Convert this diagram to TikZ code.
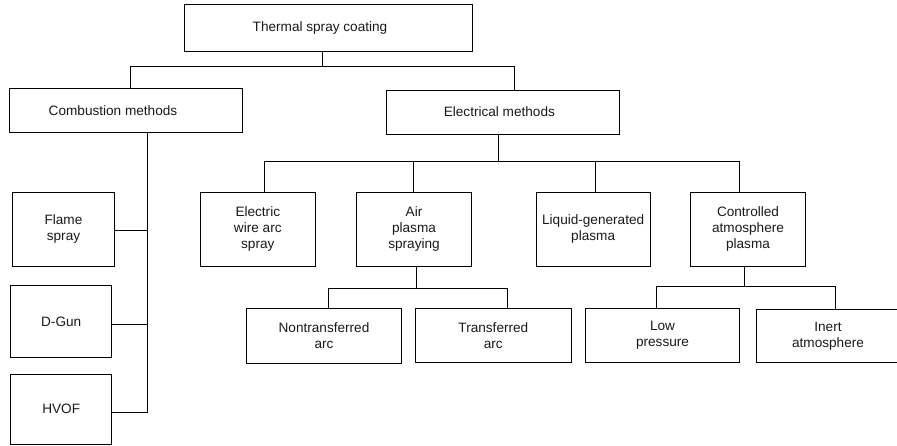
\documentclass[tikz,border=0pt]{standalone}
\usepackage{fontspec}
\setmainfont{Liberation Sans}
\begin{document}
\begin{tikzpicture}[x=1pt,y=-1pt,
  box/.style={draw, line width=0.8pt, inner sep=0pt, align=center,
    font=\fontsize{13.6}{16}\selectfont, text=black!90},
  link/.style={line width=0.8pt}]
\useasboundingbox (0,0) rectangle (897,445);
\clip (0,0) rectangle (897,445);
% nodes
\node[box, minimum width=288pt, minimum height=47.4pt] (top) at (328,28) {Thermal spray coating\hspace*{16pt}};
\node[box, minimum width=233pt, minimum height=44.7pt] (comb) at (125.5,110.35) {Combustion methods\hspace*{25pt}};
\node[box, minimum width=232.3pt, minimum height=44pt] (elec) at (502.85,112) {Electrical methods\hspace*{7pt}};
\node[box, minimum width=101.6pt, minimum height=73.3pt] (flame) at (63.5,229.35) {Flame\\spray};
\node[box, minimum width=101pt, minimum height=72.7pt] (dgun) at (61.2,321.35) {D-Gun};
\node[box, minimum width=101pt, minimum height=70.5pt] (hvof) at (61.2,409.25) {HVOF};
\node[box, minimum width=115pt, minimum height=73.7pt] (ewas) at (257.8,229.15) {Electric\\wire arc\\spray};
\node[box, minimum width=115.4pt, minimum height=73.7pt] (aps) at (414,229.15) {Air\\plasma\\spraying};
\node[box, minimum width=114.3pt, minimum height=73.3pt] (liquid) at (593.15,229.35) {Liquid-generated\\plasma};
\node[box, minimum width=114.6pt, minimum height=73.3pt] (cap) at (748,229.35) {Controlled\\atmosphere\\plasma};
\node[box, minimum width=155.4pt, minimum height=55pt] (nontr) at (324,335.8) {Nontransferred\\arc};
\node[box, minimum width=155.3pt, minimum height=54.4pt] (transf) at (493.35,335.5) {Transferred\\arc};
\node[box, minimum width=153.6pt, minimum height=54.4pt] (lowp) at (662.5,335.5) {Low\\pressure};
\node[box, minimum width=144pt, minimum height=53.7pt] (inert) at (828,335.85) {Inert\\atmosphere};
% junction coordinates
\coordinate (tj) at (322.3,66.7);
\coordinate (c1) at (130,66.7);
\coordinate (c2) at (514.3,66.7);
\coordinate (cs) at (147.7,412.3);
\coordinate (cf) at (147.7,230.3);
\coordinate (cd) at (147.7,324);
\coordinate (ej) at (498.3,161);
\coordinate (e1) at (264.3,161);
\coordinate (e2) at (413.7,161);
\coordinate (e3) at (595.7,161);
\coordinate (e4) at (739,161);
\coordinate (aj) at (416.3,288.3);
\coordinate (a1) at (328.3,288.3);
\coordinate (a2) at (507.7,288.3);
\coordinate (pj) at (744.3,286.7);
\coordinate (p1) at (656.7,286.7);
\coordinate (p2) at (835,286.7);
% connectors
\draw[link] (top.south -| tj) -- (tj);
\draw[link] (comb.north -| c1) |- (c2) -- (elec.north -| c2);
\draw[link] (comb.south -| cs) -- (cs) -- (cs -| hvof.east);
\draw[link] (cf -| flame.east) -- (cf);
\draw[link] (cd -| dgun.east) -- (cd);
\draw[link] (elec.south -| ej) -- (ej);
\draw[link] (ewas.north -| e1) |- (e4) -- (cap.north -| e4);
\draw[link] (aps.north -| e2) -- (e2);
\draw[link] (liquid.north -| e3) -- (e3);
\draw[link] (aps.south -| aj) -- (aj);
\draw[link] (nontr.north -| a1) |- (a2) -- (transf.north -| a2);
\draw[link] (cap.south -| pj) -- (pj);
\draw[link] (lowp.north -| p1) |- (p2) -- (inert.north -| p2);
\end{tikzpicture}
\end{document}
